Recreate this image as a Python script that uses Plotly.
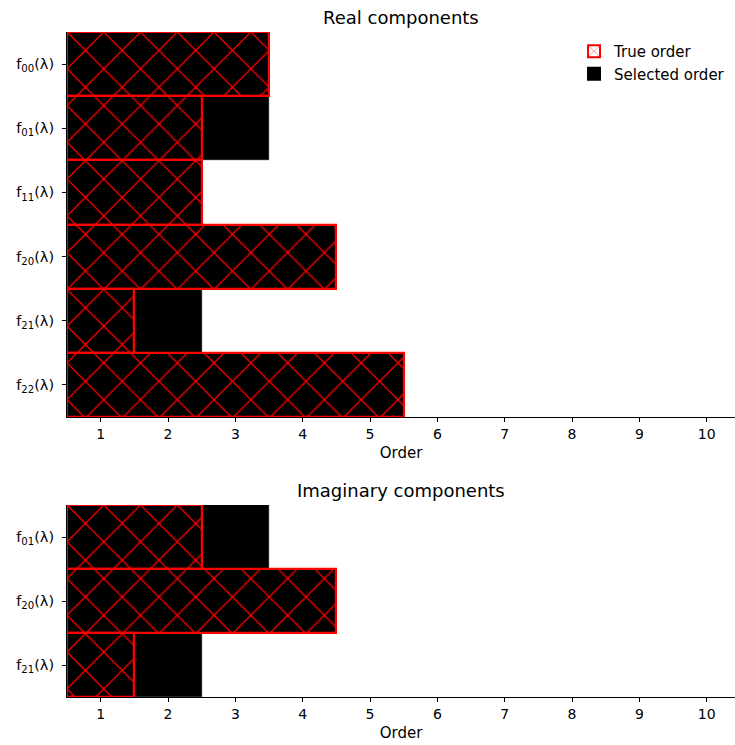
import plotly.graph_objects as go

# ---------------- data ----------------
real_components = ["f<sub>00</sub>(λ)", "f<sub>01</sub>(λ)", "f<sub>11</sub>(λ)",
                   "f<sub>20</sub>(λ)", "f<sub>21</sub>(λ)", "f<sub>22</sub>(λ)"]
real_true = [3, 2, 2, 4, 1, 5]
real_selected = [3, 3, 2, 4, 2, 5]

imag_components = ["f<sub>01</sub>(λ)", "f<sub>20</sub>(λ)", "f<sub>21</sub>(λ)"]
imag_true = [2, 4, 1]
imag_selected = [3, 4, 2]

order_ticks = list(range(1, 11))
bar_base = 0.5

FONT = "DejaVu Sans"
fig = go.Figure()


def add_panel(cats, true_vals, sel_vals, xa, ya, show_legend):
    fig.add_trace(go.Bar(
        y=cats, x=sel_vals, base=bar_base, orientation="h", width=1,
        name="Selected order", legendrank=2, showlegend=show_legend,
        marker=dict(color="black", line=dict(color="black", width=0.5)),
        xaxis=xa, yaxis=ya,
    ))
    fig.add_trace(go.Bar(
        y=cats, x=true_vals, base=bar_base, orientation="h", width=1,
        name="True order", legendrank=1, showlegend=show_legend,
        marker=dict(color="rgba(0,0,0,0)", line=dict(color="red", width=2.2),
                    pattern=dict(shape="x", fgcolor="red", bgcolor="rgba(0,0,0,0)",
                                 size=26, solidity=0.1, fillmode="replace")),
        xaxis=xa, yaxis=ya,
    ))


add_panel(real_components, real_true, real_selected, "x", "y", True)
add_panel(imag_components, imag_true, imag_selected, "x2", "y2", False)

H = 745
top_px, bot_px = 32, 697
ph = bot_px - top_px


def frac(p):
    return (bot_px - p) / ph


xcommon = dict(range=[0.5, 10.42], tickvals=order_ticks, ticks="outside", ticklen=4,
               tickcolor="black", showline=True, linecolor="black", linewidth=1,
               showgrid=False, zeroline=False,
               tickfont=dict(family=FONT, size=14, color="black"),
               title=dict(text="Order", font=dict(family=FONT, size=15, color="black"),
                          standoff=6))
ycommon = dict(type="category", autorange=False, ticks="outside", ticklen=4,
               tickcolor="black", showline=True, linecolor="black", linewidth=1,
               showgrid=False, zeroline=False, ticklabelstandoff=5,
               tickfont=dict(family=FONT, size=14.5, color="black"))

fig.update_layout(
    width=735, height=H,
    margin=dict(l=67, r=0, t=top_px, b=H - bot_px),
    plot_bgcolor="white", paper_bgcolor="white",
    barmode="overlay", bargap=0,
    font=dict(family=FONT, size=14, color="black"),
    xaxis=dict(domain=[0, 1], anchor="y", **xcommon),
    yaxis=dict(domain=[frac(417), 1], anchor="x",
               categoryorder="array", categoryarray=real_components,
               range=[len(real_components) - 0.5, -0.5], **ycommon),
    xaxis2=dict(domain=[0, 1], anchor="y2", **xcommon),
    yaxis2=dict(domain=[0, frac(505)], anchor="x2",
                categoryorder="array", categoryarray=imag_components,
                range=[len(imag_components) - 0.5, -0.5], **ycommon),
    legend=dict(x=1 - 5 / 668, xanchor="right", y=frac(35), yanchor="top",
                bgcolor="rgba(0,0,0,0)", font=dict(family=FONT, size=15),
                tracegroupgap=2, itemsizing="constant"),
    annotations=[
        dict(text="Real components", x=0.5, xref="paper", y=frac(17), yref="paper",
             showarrow=False, font=dict(family=FONT, size=18, color="black"),
             xanchor="center", yanchor="middle"),
        dict(text="Imaginary components", x=0.5, xref="paper", y=frac(490), yref="paper",
             showarrow=False, font=dict(family=FONT, size=18, color="black"),
             xanchor="center", yanchor="middle"),
    ],
)

fig.write_html("out.html")
